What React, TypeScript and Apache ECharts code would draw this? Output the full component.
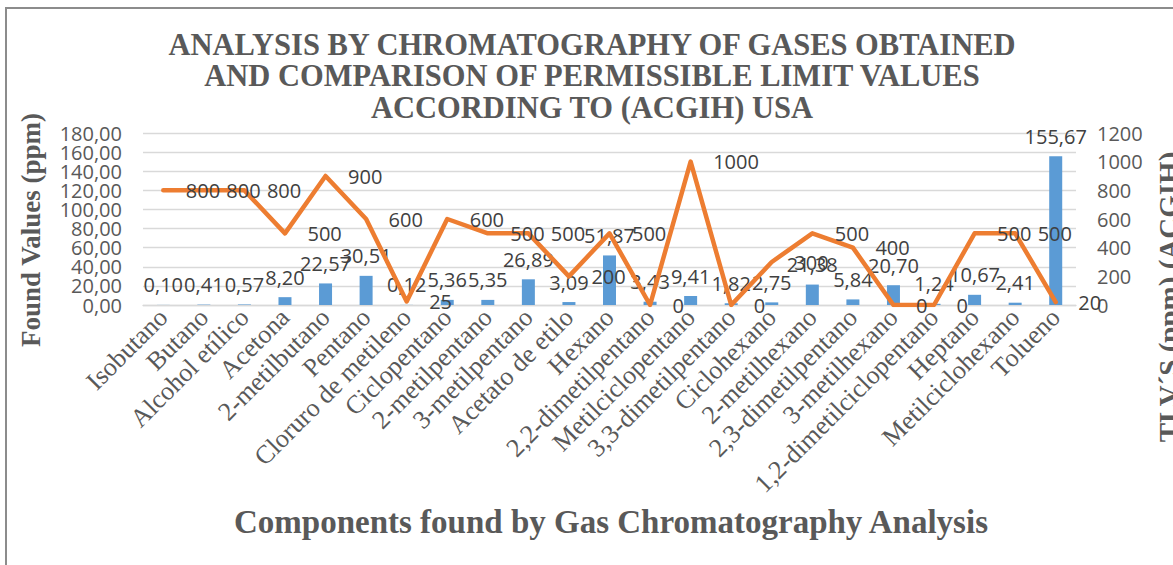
import React, { useEffect, useRef } from "react";
import * as echarts from "echarts";

const categories = [
  "Isobutano",
  "Butano",
  "Alcohol etílico",
  "Acetona",
  "2-metilbutano",
  "Pentano",
  "Cloruro de metileno",
  "Ciclopentano",
  "2-metilpentano",
  "3-metilpentano",
  "Acetato de etilo",
  "Hexano",
  "2,2-dimetilpentano",
  "Metilciclopentano",
  "3,3-dimetilpentano",
  "Ciclohexano",
  "2-metilhexano",
  "2,3-dimetilpentano",
  "3-metilhexano",
  "1,2-dimetilciclopentano",
  "Heptano",
  "Metilciclohexano",
  "Tolueno",
];

const foundValues = [
  0.1, 0.41, 0.57, 8.2, 22.57, 30.51, 0.12, 5.36, 5.35, 26.89, 3.09, 51.87,
  3.43, 9.41, 1.82, 2.75, 21.38, 5.84, 20.7, 1.24, 10.67, 2.41, 155.67,
];

const tlvValues = [
  800, 800, 800, 500, 900, 600, 25, 600, 500, 500, 200, 500, 0, 1000, 0, 300,
  500, 400, 0, 0, 500, 500, 20,
];

// left-axis tick labels, split in two sets so that none is auto-hidden
const leftTicksEven = [0, 40, 80, 120, 160];
const leftTicksOdd = [20, 60, 100, 140, 180];

const titleLines = [
  "ANALYSIS BY CHROMATOGRAPHY OF GASES OBTAINED",
  "AND COMPARISON OF PERMISSIBLE LIMIT VALUES",
  "ACCORDING TO (ACGIH) USA",
];

const leftAxisName = "Found Values (ppm)";
const rightAxisName = "TLV´S (ppm) (ACGIH)";
const xAxisName = "Components found by Gas Chromatography Analysis";

const SANS = "'Open Sans', 'Noto Sans', sans-serif";
const SERIF = "'Liberation Serif', 'DejaVu Serif', serif";

const comma2 = (v: number) => v.toFixed(2).replace(".", ",");

const leftLabel = (values: number[]) => ({
  customValues: values,
  showMinLabel: true,
  showMaxLabel: true,
  hideOverlap: false,
  margin: 21,
  fontFamily: SANS,
  fontSize: 20,
  color: "#595959",
  formatter: (v: number) => comma2(v),
});

export default function App() {
  const ref = useRef<HTMLDivElement>(null);

  useEffect(() => {
    if (!ref.current) return;
    const chart = echarts.init(ref.current, null, { renderer: "svg" });
    chart.setOption({
      animation: false,
      backgroundColor: "#ffffff",
      grid: { left: 143, right: 97, top: 133, bottom: 260 },
      graphic: [
        {
          type: "rect",
          silent: true,
          z: -10,
          shape: { x: 6, y: 8, width: 1400, height: 800 },
          style: { fill: "none", stroke: "#8c8c8c", lineWidth: 2 },
        },
        {
          type: "text",
          silent: true,
          style: {
            text: titleLines.join("\n"),
            x: 592,
            y: 29,
            textAlign: "center",
            textVerticalAlign: "top",
            fontFamily: SERIF,
            fontWeight: "bold",
            fontSize: 30.5,
            lineHeight: 31.5,
            fill: "#595959",
          },
        },
        {
          type: "text",
          silent: true,
          x: 31,
          y: 230,
          rotation: Math.PI / 2,
          style: {
            text: leftAxisName,
            x: 0,
            y: 0,
            textAlign: "center",
            textVerticalAlign: "middle",
            fontFamily: SERIF,
            fontWeight: "bold",
            fontSize: 27,
            fill: "#595959",
          },
        },
        {
          type: "text",
          silent: true,
          x: 1169,
          y: 297,
          rotation: Math.PI / 2,
          style: {
            text: rightAxisName,
            x: 0,
            y: 0,
            textAlign: "center",
            textVerticalAlign: "middle",
            fontFamily: SERIF,
            fontWeight: "bold",
            fontSize: 29,
            fill: "#595959",
          },
        },
        {
          type: "text",
          silent: true,
          style: {
            text: xAxisName,
            x: 611,
            y: 522,
            textAlign: "center",
            textVerticalAlign: "middle",
            fontFamily: SERIF,
            fontWeight: "bold",
            fontSize: 33,
            fill: "#595959",
          },
        },
      ],
      xAxis: {
        type: "category",
        data: categories,
        axisLine: { lineStyle: { color: "#d9d9d9", width: 1.3 } },
        axisTick: { show: false },
        axisLabel: {
          interval: 0,
          rotate: 45,
          margin: 8,
          fontFamily: SERIF,
          fontSize: 26,
          color: "#595959",
        },
      },
      yAxis: [
        {
          type: "value",
          min: 0,
          max: 180,
          interval: 20,
          axisLine: { show: false },
          axisTick: { show: false },
          splitLine: { lineStyle: { color: "#d9d9d9", width: 1.3 } },
          axisLabel: leftLabel(leftTicksEven),
        },
        {
          type: "value",
          position: "right",
          min: 0,
          max: 1200,
          interval: 200,
          axisLine: { show: false },
          axisTick: { show: false },
          splitLine: { show: false },
          axisLabel: {
            showMinLabel: true,
            showMaxLabel: true,
            margin: 21,
            fontFamily: SANS,
            fontSize: 20,
            color: "#595959",
            formatter: (v: number) => String(v),
          },
        },
        {
          type: "value",
          position: "left",
          min: 0,
          max: 180,
          interval: 20,
          axisLine: { show: false },
          axisTick: { show: false },
          splitLine: { show: false },
          axisLabel: leftLabel(leftTicksOdd),
        },
      ],
      series: [
        {
          type: "bar",
          data: foundValues,
          yAxisIndex: 0,
          barWidth: 13,
          z: 2,
          itemStyle: { color: "#5b9bd5" },
          label: {
            show: true,
            position: "top",
            distance: 10,
            fontFamily: SANS,
            fontSize: 20,
            color: "#404040",
            formatter: (p: any) => comma2(p.value),
          },
        },
        {
          type: "line",
          data: tlvValues,
          yAxisIndex: 1,
          z: 3,
          symbol: "circle",
          symbolSize: 1,
          showSymbol: true,
          itemStyle: { color: "#ed7d31" },
          lineStyle: { color: "#ed7d31", width: 4.5, join: "round", cap: "round" },
          label: {
            show: true,
            position: "right",
            distance: 22,
            fontFamily: SANS,
            fontSize: 20,
            color: "#404040",
          },
        },
      ],
    });
    return () => chart.dispose();
  }, []);

  return (
    <div
      ref={ref}
      style={{ position: "absolute", left: 0, top: 0, width: 1173, height: 565 }}
    />
  );
}
